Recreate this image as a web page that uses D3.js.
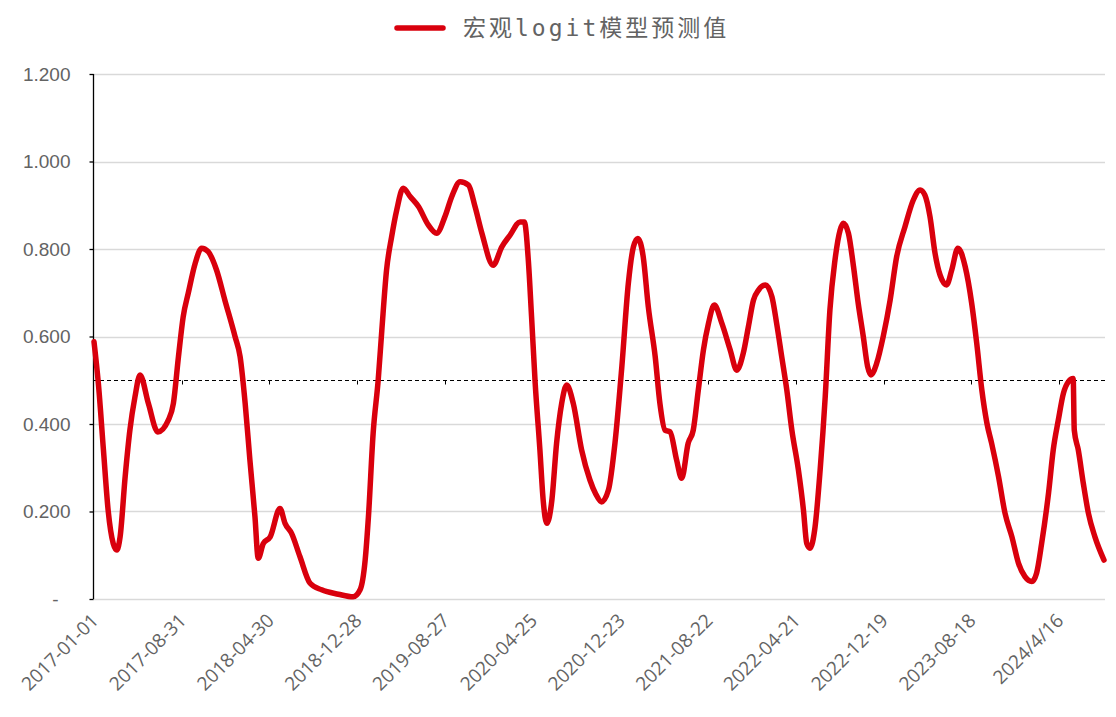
<!DOCTYPE html>
<html>
<head>
<meta charset="utf-8">
<script src="https://cdn.jsdelivr.net/npm/d3@7"></script>
<style>
	body{margin:0;background:#fff;}
	svg{display:block;font-family:"Open Sans","Noto Sans",sans-serif;}
</style>
</head>
<body>
<svg id="chart" width="1116" height="717"></svg>
<script>

// values, one point per date
var dates = ["2017-01-01","2017-01-13","2017-01-27","2017-02-09","2017-02-23","2017-03-05","2017-03-14","2017-03-28","2017-04-10","2017-04-24",
	"2017-05-08","2017-05-31","2017-06-26","2017-07-25","2017-08-08","2017-08-22","2017-09-04","2017-09-18","2017-10-07","2017-10-25",
	"2017-11-12","2017-12-05","2017-12-28","2018-01-25","2018-02-08","2018-02-22","2018-03-07","2018-03-21","2018-03-30","2018-04-13",
	"2018-05-02","2018-05-29","2018-06-12","2018-06-30","2018-07-23","2018-08-20","2018-09-21","2018-11-06","2018-12-17","2019-01-05",
	"2019-01-19","2019-01-28","2019-02-10","2019-02-24","2019-03-06","2019-03-19","2019-04-02","2019-04-16","2019-05-04","2019-05-23",
	"2019-06-15","2019-07-12","2019-08-04","2019-08-27","2019-09-15","2019-10-08","2019-10-31","2019-11-18","2019-12-07","2020-01-07",
	"2020-01-31","2020-02-23","2020-03-21","2020-04-02","2020-04-13","2020-04-22","2020-05-02","2020-05-15","2020-05-24","2020-06-03",
	"2020-06-17","2020-06-30","2020-07-14","2020-07-28","2020-08-15","2020-09-07","2020-09-30","2020-10-16","2020-11-01","2020-11-20",
	"2020-12-08","2020-12-27","2021-01-14","2021-01-28","2021-02-09","2021-02-24","2021-03-10","2021-03-29","2021-04-11","2021-04-25",
	"2021-05-09","2021-05-27","2021-06-10","2021-06-28","2021-07-12","2021-07-26","2021-08-09","2021-08-23","2021-09-08","2021-09-29",
	"2021-10-22","2021-11-09","2021-11-27","2021-12-11","2021-12-25","2022-01-08","2022-01-27","2022-02-14","2022-02-27","2022-03-13",
	"2022-03-27","2022-04-10","2022-04-28","2022-05-12","2022-05-21","2022-05-30","2022-06-13","2022-06-27","2022-07-11","2022-07-24",
	"2022-08-07","2022-08-21","2022-08-30","2022-09-13","2022-09-27","2022-10-10","2022-10-24","2022-11-05","2022-11-14","2022-11-30",
	"2022-12-18","2023-01-06","2023-01-24","2023-02-16","2023-03-11","2023-03-30","2023-04-12","2023-04-26","2023-05-10","2023-05-24",
	"2023-06-11","2023-06-25","2023-07-12","2023-08-01","2023-08-19","2023-09-02","2023-09-16","2023-09-30","2023-10-13","2023-11-01",
	"2023-11-19","2023-12-08","2023-12-26","2024-01-13","2024-02-01","2024-02-14","2024-02-28","2024-03-18","2024-03-31","2024-04-14",
	"2024-04-28","2024-05-12","2024-05-25","2024-05-28","2024-06-08","2024-06-22","2024-07-06","2024-07-24","2024-08-18"];

var predValues = [0.588,0.493,0.341,0.203,0.127,0.112,0.142,0.280,0.386,0.462,
	0.512,0.447,0.382,0.409,0.447,0.554,0.645,0.699,0.767,0.802,
	0.794,0.752,0.683,0.600,0.554,0.447,0.318,0.188,0.093,0.127,
	0.142,0.207,0.173,0.150,0.097,0.036,0.021,0.011,0.005,0.021,
	0.089,0.188,0.379,0.501,0.615,0.752,0.828,0.889,0.939,0.920,
	0.897,0.855,0.836,0.874,0.920,0.954,0.946,0.897,0.836,0.763,
	0.805,0.832,0.862,0.862,0.775,0.645,0.493,0.341,0.226,0.173,
	0.226,0.356,0.447,0.489,0.447,0.341,0.272,0.240,0.222,0.249,
	0.356,0.531,0.722,0.805,0.824,0.782,0.668,0.554,0.447,0.386,
	0.382,0.318,0.276,0.356,0.386,0.478,0.569,0.630,0.672,0.630,
	0.569,0.523,0.562,0.622,0.683,0.706,0.718,0.691,0.630,0.554,
	0.478,0.386,0.295,0.203,0.127,0.116,0.165,0.295,0.462,0.661,
	0.775,0.843,0.859,0.836,0.760,0.676,0.600,0.531,0.512,0.539,
	0.600,0.683,0.782,0.851,0.912,0.935,0.923,0.874,0.790,0.740,
	0.718,0.752,0.802,0.760,0.676,0.584,0.478,0.402,0.356,0.280,
	0.196,0.142,0.082,0.051,0.040,0.059,0.127,0.242,0.341,0.409,
	0.470,0.497,0.504,0.386,0.341,0.264,0.196,0.142,0.089];

var xTickDates = ["2017-01-01","2017-08-31","2018-04-30","2018-12-28","2019-08-27","2020-04-25",
	"2020-12-23","2021-08-22","2022-04-21","2022-12-19","2023-08-18","2024-04-16"];
var xTickLabels = ["2017-01-01","2017-08-31","2018-04-30","2018-12-28","2019-08-27","2020-04-25",
	"2020-12-23","2021-08-22","2022-04-21","2022-12-19","2023-08-18","2024/4/16"];
var yTicks = [0,0.2,0.4,0.6,0.8,1.0,1.2];
var threshold = 0.5;
var seriesName = "宏观logit模型预测值";

var parseDate = d3.timeParse("%Y-%m-%d");
var lineColor = "#d9000d";
var textColor = "#636363";

var plot = {left:93, right:1105, top:74, bottom:599};

function buildChart(){
	var svg = d3.select("#chart");

	var data = _zip(dates, predValues);

	var x = d3.scaleTime()
		.domain([parseDate(dates[0]), parseDate(dates[dates.length-1])])
		.range([plot.left+1, plot.right-1]);

	var y = d3.scaleLinear()
		.domain([0,1.2])
		.range([plot.bottom, plot.top]);

	// gridlines
	svg.append("g").attr("class","grid")
		.selectAll("line")
		.data(yTicks)
		.enter()
		.append("line")
		.attr("x1", plot.left)
		.attr("x2", plot.right)
		.attr("y1", function(d){ return Math.round(y(d))+0.5; })
		.attr("y2", function(d){ return Math.round(y(d))+0.5; })
		.attr("stroke", "#d9d9d9")
		.attr("stroke-width", 1.3);

	// y axis
	var yAxis = d3.axisLeft(y)
		.tickValues(yTicks)
		.tickSize(4)
		.tickPadding(20)
		.tickFormat(function(d){ return d == 0 ? "-" : d3.format(".3f")(d); });

	var yG = svg.append("g")
		.attr("transform", "translate("+(plot.left+0.5)+",0)")
		.call(yAxis);
	yG.select(".domain").attr("stroke","#000").attr("stroke-width",1.3)
		.attr("d", "M0,"+plot.top+"V"+plot.bottom);
	yG.selectAll(".tick line").attr("stroke","#000").attr("stroke-width",1.3);
	yG.selectAll(".tick text")
		.attr("fill", textColor)
		.style("font-size","19px")
		.attr("x", function(d){ return d == 0 ? -35 : -23; });

	// category axis crosses at 0.5, drawn dashed
	var yThr = Math.round(y(threshold))+0.5;
	svg.append("line")
		.attr("x1", plot.left)
		.attr("x2", plot.right)
		.attr("y1", yThr)
		.attr("y2", yThr)
		.attr("stroke", "#000")
		.attr("stroke-width", 1.2)
		.attr("stroke-dasharray", "4,3");

	svg.append("g").selectAll("line")
		.data(xTickDates.slice(1))
		.enter()
		.append("line")
		.attr("x1", function(d){ return Math.round(x(parseDate(d)))+0.5; })
		.attr("x2", function(d){ return Math.round(x(parseDate(d)))+0.5; })
		.attr("y1", yThr)
		.attr("y2", yThr+4)
		.attr("stroke", "#000")
		.attr("stroke-width", 1);

	// labels sit low, under the plot
	svg.append("g").attr("class","xlabels")
		.selectAll("text")
		.data(xTickDates)
		.enter()
		.append("text")
		.attr("transform", function(d){ return "translate("+(x(parseDate(d))+1)+","+(plot.bottom+18)+") rotate(-45)"; })
		.attr("text-anchor", "end")
		.attr("dy", "0.35em")
		.attr("fill", textColor)
		.style("font-size", "19px")
		.text(function(d,i){ return xTickLabels[i]; });

	// series
	var line = d3.line()
		.x(function(d){ return x(d.date); })
		.y(function(d){ return y(d.value); })
		.curve(d3.curveMonotoneX);

	svg.append("path")
		.datum(data)
		.attr("d", line)
		.attr("fill", "none")
		.attr("stroke", lineColor)
		.attr("stroke-width", 5.5)
		.attr("stroke-linejoin", "round")
		.attr("stroke-linecap", "round");

	// legend
	var legend = svg.append("g").attr("transform","translate(397,28)");
	legend.append("line")
		.attr("x1",0).attr("x2",46)
		.attr("y1",0).attr("y2",0)
		.attr("stroke", lineColor)
		.attr("stroke-width", 5.5)
		.attr("stroke-linecap","round");
	var lt = legend.append("text")
		.attr("x", 66)
		.attr("y", 8)
		.attr("fill", textColor)
		.style("font-size","23px")
		.style("font-family", "'Noto Sans CJK SC',sans-serif")
		.style("letter-spacing","3px");
	lt.append("tspan").text(seriesName.slice(0,2));
	lt.append("tspan").style("font-family","'DejaVu Sans Mono',monospace").text(seriesName.slice(2,7));
	lt.append("tspan").text(seriesName.slice(7));
}

function _zip(ds, vs){
	var out = [];
	_each(ds, function(d,i){
		out.push({date:parseDate(d), value:vs[i]});
	});
	return out;
}

function _each(arr, fn){
	for(var i=0;i<arr.length;i++){ fn(arr[i], i); }
}

buildChart();
</script>
</body>
</html>
